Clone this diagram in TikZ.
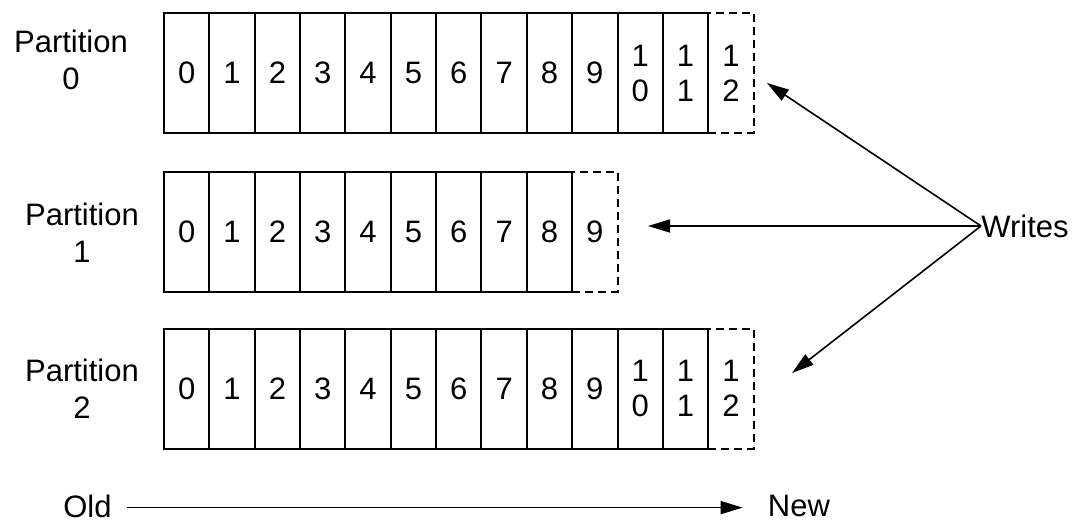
\documentclass[tikz,border=0pt]{standalone}
\usepackage{fontspec}
\setmainfont{Liberation Sans}
\usetikzlibrary{arrows.meta}
\begin{document}
\begin{tikzpicture}[x=0.5pt,y=-0.5pt,
  cell/.style={draw, line width=1pt, minimum width=22.675pt, minimum height=60pt,
    inner sep=0pt, font=\fontsize{15.5}{17.5}\selectfont, align=center},
  newcell/.style={cell, dash pattern=on 4pt off 2.5pt},
  lbl/.style={font=\fontsize{15.5}{18.5}\selectfont, align=center, inner sep=0pt},
  wr/.style={-{Triangle[length=11pt,width=6.5pt]}, line width=0.8pt}]
\useasboundingbox (0,0) rectangle (1078,521);
% Partition 0
\foreach \t [count=\i from 0] in {0,1,2,3,4,5,6,7,8,9,{1\\0},{1\\1}}
  \node[cell] (a\i) at ({164+45.35*(\i+0.5)},73) {\t};
\node[newcell] (a12) at ({164+45.35*12.5},73) {1\\2};
% Partition 1
\foreach \t [count=\i from 0] in {0,1,2,3,4,5,6,7,8}
  \node[cell] (b\i) at ({164+45.35*(\i+0.5)},231.5) {\t};
\node[newcell] (b9) at ({164+45.35*9.5},231.5) {9};
% Partition 2
\foreach \t [count=\i from 0] in {0,1,2,3,4,5,6,7,8,9,{1\\0},{1\\1}}
  \node[cell] (c\i) at ({164+45.35*(\i+0.5)},388.5) {\t};
\node[newcell] (c12) at ({164+45.35*12.5},388.5) {1\\2};
% labels
\node[lbl] (l0) at (71,60) {Partition\\0};
\node[lbl] (l1) at (82,232.5) {Partition\\1};
\node[lbl] (l2) at (82,389) {Partition\\2};
% writes
\node[lbl, anchor=west] (w) at (981,226) {Writes};
\coordinate (t0) at (767,83);
\coordinate (t1) at (648,226);
\coordinate (t2) at (792,373);
\draw[wr] (w.west) -- (t0);
\draw[wr] (w.west) -- (t1);
\draw[wr] (w.west) -- (t2);
% old -> new
\node[lbl] (old) at (87.5,506) {Old};
\node[lbl] (new) at (799,506) {New};
\draw[wr] ([xshift=7.5pt,yshift=-0.8pt]old.east) -- ([xshift=-12.5pt,yshift=-0.8pt]new.west);
\end{tikzpicture}
\end{document}
